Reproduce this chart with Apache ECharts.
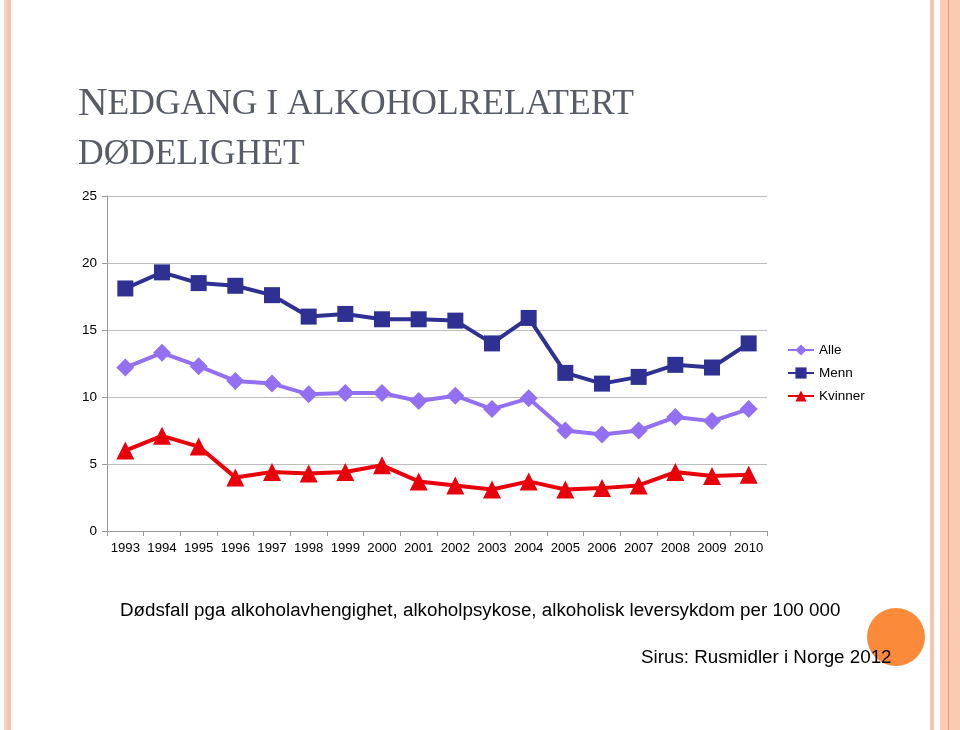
<!DOCTYPE html>
<html>
<head>
<meta charset="utf-8">
<script src="https://cdn.jsdelivr.net/npm/echarts@6/dist/echarts.min.js"></script>
<style>
html,body{margin:0;padding:0;background:#fff;}
#c{width:960px;height:730px;}
</style>
</head>
<body>
<div id="c"></div>
<script>
var years = ['1993','1994','1995','1996','1997','1998','1999','2000','2001','2002','2003','2004','2005','2006','2007','2008','2009','2010'];
var alle = [12.2,13.3,12.3,11.2,11.0,10.2,10.3,10.3,9.7,10.1,9.1,9.9,7.5,7.2,7.5,8.5,8.2,9.1];
var menn = [18.1,19.3,18.5,18.3,17.6,16.0,16.2,15.8,15.8,15.7,14.0,15.9,11.8,11.0,11.5,12.4,12.2,14.0];
var kvinner = [6.0,7.1,6.3,4.0,4.4,4.3,4.4,4.9,3.7,3.4,3.1,3.7,3.1,3.2,3.4,4.4,4.1,4.2];
var yTicks = [0,5,10,15,20,25];

var chart = echarts.init(document.getElementById('c'), null, {renderer:'canvas'});
var font = 'Liberation Sans, Arial, sans-serif';
var serif = 'Liberation Serif, serif';
chart.setOption({
  animation:false,
  backgroundColor:'#ffffff',
  grid:{left:107,right:193,top:196,bottom:199,containLabel:false},
  legend:{
    orient:'vertical', left:782, top:338, itemGap:9, itemWidth:26, itemHeight:14,
    textStyle:{fontFamily:font,fontSize:13.5,color:'#000'},
    data:['Alle','Menn','Kvinner']
  },
  xAxis:{
    type:'category', data:years, boundaryGap:true,
    axisLine:{lineStyle:{color:'#9a9a9a',width:1}},
    axisTick:{show:true,length:5,interval:0,lineStyle:{color:'#9a9a9a'}},
    axisLabel:{fontFamily:font,fontSize:13.2,color:'#000',margin:11,interval:0,hideOverlap:false}
  },
  yAxis:{
    type:'value', min:yTicks[0], max:yTicks[yTicks.length-1], interval:5,
    axisLine:{show:true,lineStyle:{color:'#9a9a9a',width:1}},
    axisTick:{show:true,length:5,inside:false,lineStyle:{color:'#9a9a9a'}},
    axisLabel:{fontFamily:font,fontSize:13.5,color:'#000',margin:10},
    splitLine:{lineStyle:{color:'#bdbdbd',width:1}}
  },
  series:[
    {name:'Alle',type:'line',data:alle,symbol:'diamond',symbolSize:18,
     lineStyle:{color:'#9370f2',width:4},itemStyle:{color:'#9370f2'},z:3},
    {name:'Menn',type:'line',data:menn,symbol:'rect',symbolSize:16,
     lineStyle:{color:'#2e3192',width:4},itemStyle:{color:'#2e3192'},z:3},
    {name:'Kvinner',type:'line',data:kvinner,symbol:'triangle',symbolSize:18,
     lineStyle:{color:'#e8000b',width:4},itemStyle:{color:'#e8000b'},z:3}
  ],
  graphic:[
    {type:'rect',shape:{x:4,y:0,width:3,height:730},style:{fill:'#f6d2c2'},silent:true},
    {type:'rect',shape:{x:7,y:0,width:4,height:730},style:{fill:'#f9c2ac'},silent:true},
    {type:'rect',shape:{x:930,y:0,width:4,height:730},style:{fill:'#f4c4b2'},silent:true},
    {type:'rect',shape:{x:940,y:0,width:20,height:730},style:{fill:'#fcc9b2'},silent:true},
    {type:'rect',shape:{x:948,y:0,width:1,height:730},style:{fill:'#e89a78'},silent:true},
    {type:'circle',shape:{cx:896,cy:637,r:29},style:{fill:'#fb8a3a'},silent:true,z:10},
    {type:'text',x:78,y:127,z:20,silent:true,
     style:{text:'{a|N}{b|EDGANG I ALKOHOLRELATERT}',verticalAlign:'bottom',
       rich:{a:{fontFamily:serif,fontSize:41,fill:'#575c67',verticalAlign:'bottom',height:45},
             b:{fontFamily:serif,fontSize:35.5,fill:'#575c67',verticalAlign:'bottom',height:45}}}},
    {type:'text',x:78,y:137,z:20,silent:true,
     style:{text:'DØDELIGHET',fontFamily:serif,fontSize:35.5,fill:'#575c67'}},
    {type:'text',left:120,top:601,z:20,silent:true,
     style:{text:'Dødsfall pga alkoholavhengighet, alkoholpsykose, alkoholisk leversykdom per 100 000',fontFamily:font,fontSize:18.8,fill:'#000'}},
    {type:'text',left:641,top:648,z:20,silent:true,
     style:{text:'Sirus: Rusmidler i Norge 2012',fontFamily:font,fontSize:18.8,fill:'#000'}}
  ]
});
</script>
</body>
</html>
